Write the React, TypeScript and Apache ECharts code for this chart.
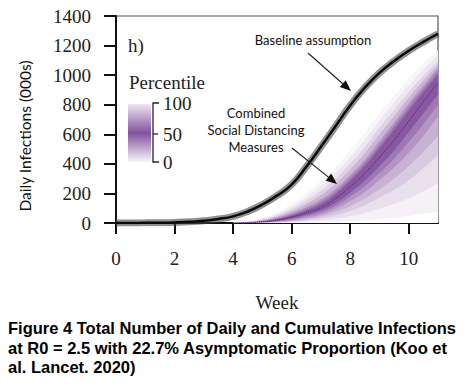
import React, { useEffect, useRef } from "react";
import * as echarts from "echarts";

// Baseline (no intervention) daily infections, thousands
const baselineWeeks = [0, 0.5, 1, 1.5, 2, 2.5, 3, 3.5, 4, 4.5, 5, 5.5, 6, 6.5, 7, 7.5, 8, 8.5, 9, 9.5, 10, 10.5, 11];
const baselineValues = [0, 0.5, 1, 2, 4, 8, 15, 27, 45, 78, 125, 185, 260, 380, 515, 655, 795, 915, 1015, 1095, 1165, 1225, 1280];

// Combined social distancing: percentile curves
const fanWeeks = [4, 4.5, 5, 5.5, 6, 6.5, 7, 7.5, 8, 8.5, 9, 9.5, 10, 10.5, 11];
const p0 = [0, 0, 0, 0, 1, 2, 4, 7, 12, 18, 26, 36, 48, 62, 80];
const p5 = [0, 0, 0.5, 2, 5, 10, 18, 30, 47, 68, 96, 130, 168, 215, 270];
const p10 = [0, 0, 1, 4, 9, 18, 32, 52, 82, 120, 170, 225, 290, 370, 460];
const p18 = [0, 0.3, 2, 6, 13, 26, 45, 74, 115, 165, 230, 300, 385, 480, 590];
const p25 = [0, 0.5, 3, 8, 18, 35, 58, 95, 148, 210, 290, 375, 475, 590, 720];
const p33 = [0, 0.8, 4, 11, 24, 45, 72, 115, 178, 248, 338, 435, 548, 668, 798];
const p40 = [0, 1, 5, 14, 30, 55, 85, 135, 205, 285, 385, 490, 615, 740, 870];
const p50 = [0, 2, 8, 20, 40, 70, 105, 165, 245, 335, 445, 560, 690, 820, 950];
const p60 = [0, 3, 11, 26, 50, 85, 128, 195, 285, 385, 505, 630, 760, 885, 1005];
const p68 = [0.5, 4, 13, 31, 58, 96, 144, 213, 305, 408, 530, 655, 785, 908, 1028];
const p75 = [1, 5, 16, 36, 67, 108, 160, 232, 325, 430, 555, 680, 810, 930, 1050];
const p83 = [1.2, 6.5, 20, 44, 81, 129, 189, 266, 362, 472, 600, 722, 847, 962, 1072];
const p90 = [1.5, 8, 24, 52, 95, 150, 218, 300, 400, 515, 645, 765, 885, 995, 1095];
const p95 = [2, 10, 30, 62, 112, 175, 252, 340, 445, 562, 692, 812, 930, 1038, 1133];
const p100 = [3, 12, 35, 72, 130, 200, 285, 380, 490, 610, 740, 860, 975, 1080, 1170];

const yTicks = { min: 0, max: 1400, interval: 200 };
const xRange = { min: 0, max: 11 };
const xTickValues = [0, 2, 4, 6, 8, 10];

const captionLines = [
  "Figure 4 Total Number of Daily and Cumulative Infections",
  "at R0 = 2.5 with 22.7% Asymptomatic Proportion (Koo et",
  "al. Lancet. 2020)",
];

const SERIF = "'Liberation Serif', 'Times New Roman', serif";
const SANS = "Lato, 'Noto Sans', sans-serif";
const PURPLE = (a: number) => `rgba(110, 50, 140, ${a})`;
const MIX = (a: number) =>
  `rgb(${Math.round(255 - a * (255 - 110))}, ${Math.round(255 - a * (255 - 50))}, ${Math.round(255 - a * (255 - 140))})`;

function arrow(x1: number, y1: number, x2: number, y2: number) {
  const dx = x2 - x1, dy = y2 - y1;
  const len = Math.sqrt(dx * dx + dy * dy);
  const ux = dx / len, uy = dy / len;
  const hl = 11, hw = 4.5;
  const bx = x2 - ux * hl, by = y2 - uy * hl;
  return [
    { type: "line", shape: { x1, y1, x2: bx, y2: by }, style: { stroke: "#222", lineWidth: 1.2 }, z: 100 },
    {
      type: "polygon",
      shape: { points: [[x2, y2], [bx - uy * hw, by + ux * hw], [bx + uy * hw, by - ux * hw]] },
      style: { fill: "#111" },
      z: 100,
    },
  ];
}

export default function App() {
  const ref = useRef<HTMLDivElement>(null);
  useEffect(() => {
    document.body.style.margin = "0";
    const chart = echarts.init(ref.current!, null, { renderer: "svg" });
    const pair = (xs: number[], ys: number[]) => xs.map((x, i) => [x, ys[i]]);
    // painted from the top curve down; each later area covers the one before below its curve
    const layers: { curve: number[]; a: number }[] = [
      { curve: p100, a: 0.05 },
      { curve: p95, a: 0.12 },
      { curve: p90, a: 0.22 },
      { curve: p83, a: 0.36 },
      { curve: p75, a: 0.52 },
      { curve: p68, a: 0.67 },
      { curve: p60, a: 0.82 },
      { curve: p40, a: 0.66 },
      { curve: p33, a: 0.52 },
      { curve: p25, a: 0.38 },
      { curve: p18, a: 0.26 },
      { curve: p10, a: 0.15 },
      { curve: p5, a: 0.07 },
      { curve: p0, a: 0 },
    ];
    const fanSeries: any[] = [
      ...layers.map((l) => ({
        type: "line",
        data: pair(fanWeeks, l.curve),
        smooth: true,
        symbol: "none",
        lineStyle: { width: 0, opacity: 0 },
        areaStyle: { color: MIX(l.a), opacity: 1 },
        silent: true,
      })),
      {
        type: "line",
        data: pair(fanWeeks, p50),
        smooth: true,
        symbol: "none",
        lineStyle: { width: 1, type: "dotted", color: "#4e2262" },
        silent: true,
      },
    ];
    const captionGraphics = captionLines.map((t, i) => ({
      type: "text",
      x: 8,
      y: 328 + i * 19.5,
      style: {
        text: t,
        font: "bold 16.5px 'Liberation Sans', Arial, sans-serif",
        fill: "#000",
        textVerticalAlign: "middle",
        textAlign: "left",
      },
    }));
    chart.setOption({
      animation: false,
      backgroundColor: "#fff",
      grid: { left: 116, right: 28, top: 16, bottom: 162, show: true, borderColor: "#555", borderWidth: 1.2 },
      xAxis: {
        type: "value",
        ...xRange,
        axisLine: { show: true, lineStyle: { color: "#111", width: 2 } },
        axisTick: { show: true, length: 11, customValues: xTickValues, lineStyle: { color: "#111", width: 2 } },
        axisLabel: { fontFamily: SERIF, fontSize: 19, color: "#222", margin: 26, customValues: xTickValues },
        splitLine: { show: false },
        name: "Week",
        nameLocation: "middle",
        nameGap: 70,
        nameTextStyle: { fontFamily: SERIF, fontSize: 19, color: "#222" },
      },
      yAxis: {
        type: "value",
        ...yTicks,
        axisLine: { show: true, lineStyle: { color: "#111", width: 2 } },
        axisTick: { show: true, length: 12, lineStyle: { color: "#111", width: 2 } },
        axisLabel: { fontFamily: SERIF, fontSize: 19, color: "#222", margin: 25, formatter: (v: number) => String(v) },
        splitLine: { show: false },
      },
      series: [
        ...fanSeries,
        {
          type: "line",
          data: pair(baselineWeeks, baselineValues),
          smooth: true,
          symbol: "none",
          lineStyle: { width: 7, color: "rgba(70,70,70,0.6)" },
          silent: true,
        },
        {
          type: "line",
          data: pair(baselineWeeks, baselineValues),
          smooth: true,
          symbol: "none",
          lineStyle: { width: 2.5, color: "#0a0a0a" },
          silent: true,
        },
      ],
      graphic: [
        {
          type: "text",
          x: 25,
          y: 136,
          rotation: Math.PI / 2,
          style: {
            text: "Daily Infections (000s)",
            font: `15.5px ${SANS}`,
            fill: "#111",
            textAlign: "center",
            textVerticalAlign: "middle",
          },
        },
        { type: "text", x: 128, y: 45, style: { text: "h)", font: `19px ${SERIF}`, fill: "#222", textVerticalAlign: "middle" } },
        { type: "text", x: 129, y: 82, style: { text: "Percentile", font: `19px ${SERIF}`, fill: "#222", textVerticalAlign: "middle" } },
        {
          type: "rect",
          shape: { x: 128, y: 104, width: 23, height: 58 },
          style: {
            fill: new echarts.graphic.LinearGradient(0, 0, 0, 1, [
              { offset: 0, color: PURPLE(0.12) },
              { offset: 0.5, color: PURPLE(0.85) },
              { offset: 1, color: PURPLE(0.05) },
            ]),
          },
        },
        {
          type: "polyline",
          shape: { points: [[159, 103], [153, 103], [153, 162], [159, 162]] },
          style: { stroke: "#222", lineWidth: 1.3, fill: "none" },
        },
        { type: "line", shape: { x1: 153, y1: 134, x2: 158, y2: 134 }, style: { stroke: "#222", lineWidth: 1.3 } },
        { type: "text", x: 163, y: 103, style: { text: "100", font: `19px ${SERIF}`, fill: "#222", textVerticalAlign: "middle" } },
        { type: "text", x: 163, y: 134, style: { text: "50", font: `19px ${SERIF}`, fill: "#222", textVerticalAlign: "middle" } },
        { type: "text", x: 163, y: 162, style: { text: "0", font: `19px ${SERIF}`, fill: "#222", textVerticalAlign: "middle" } },
        {
          type: "text",
          x: 313,
          y: 40,
          style: { text: "Baseline assumption", font: `13px ${SANS}`, fill: "#111", textAlign: "center", textVerticalAlign: "middle" },
        },
        ...arrow(308, 53, 351, 91),
        {
          type: "text",
          x: 256,
          y: 130,
          style: {
            text: "Combined\nSocial Distancing\nMeasures",
            font: `13px ${SANS}`,
            lineHeight: 17,
            fill: "#111",
            textAlign: "center",
            textVerticalAlign: "middle",
          },
        },
        ...arrow(292, 148, 337, 184),
        ...captionGraphics,
      ],
    });
    return () => chart.dispose();
  }, []);
  return <div ref={ref} style={{ width: 466, height: 385 }} />;
}
